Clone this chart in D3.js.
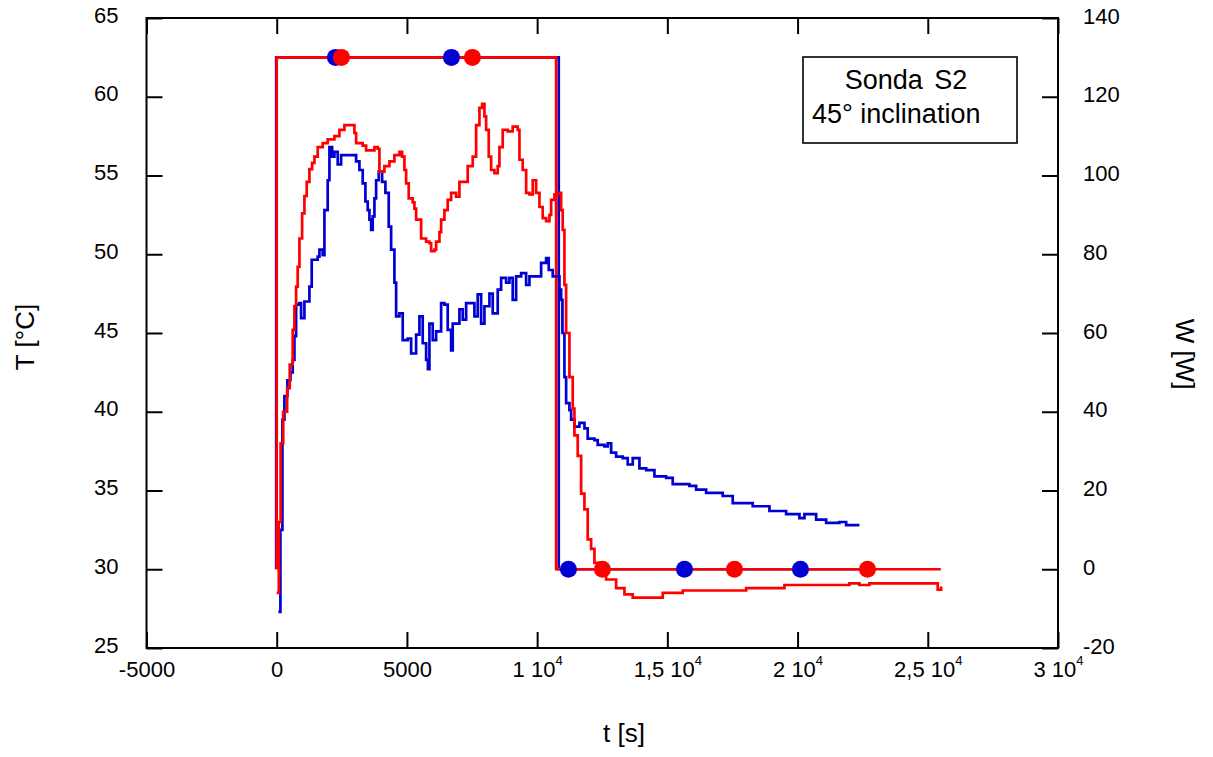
<!DOCTYPE html>
<html><head><meta charset="utf-8">
<script src="https://cdn.jsdelivr.net/npm/d3@7"></script>
<style>
body{margin:0;background:#fff}
text{font-family:"Liberation Sans",Arial,Helvetica,sans-serif;fill:#000}
</style>
</head><body>
<svg id="chart" width="1213" height="757"></svg>
<script>
// ---------- data ----------
const xTicks = [-5000, 0, 5000, 10000, 15000, 20000, 25000, 30000];
const xTickMantissa = ["-5000", "0", "5000", "1 10", "1,5 10", "2 10", "2,5 10", "3 10"];
const xTickExponent = ["", "", "", "4", "4", "4", "4", "4"];
const tempTicks = [25, 30, 35, 40, 45, 50, 55, 60, 65];
const powerTicks = [-20, 0, 20, 40, 60, 80, 100, 120, 140];

// red temperature (time s, T °C)
const redTempTime = [0, 80, 150, 250, 400, 500, 614, 680, 745, 806, 872, 975, 1064, 1152, 1256, 1359, 1448, 1574, 1766, 1958, 2216, 2408, 2600, 2857, 2984, 3049, 3302, 3433, 3752, 3878, 3944, 4136, 4328, 4520, 4712, 4815, 4904, 4969, 5069, 5222, 5288, 5353, 5545, 5737, 5864, 5929, 6056, 6121, 6248, 6313, 6440, 6566, 6697, 6889, 7016, 7208, 7334, 7526, 7657, 7784, 7887, 7976, 8041, 8141, 8233, 8360, 8486, 8552, 8678, 8870, 9062, 9254, 9320, 9446, 9577, 9704, 9830, 9961, 10088, 10214, 10345, 10472, 10537, 10664, 10790, 10921, 10982, 11048, 11113, 11240, 11366, 11432, 11558, 11689, 11816, 11942, 12073, 12200, 12392, 12649, 13033, 13352, 13670, 14377, 14822, 15590, 18025, 19496, 21992, 22376, 22760, 24998, 25382, 25513];
const redTempValue = [28.5, 33, 38, 40, 41.5, 43, 45.2, 46.7, 47.95, 49.2, 51.0, 52.6, 53.7, 54.6, 55.4, 55.8, 56.2, 56.8, 57.05, 57.3, 57.5, 57.9, 58.2, 58.2, 57.7, 57.05, 56.9, 56.6, 56.8, 56.7, 55.25, 55.6, 55.9, 56.3, 56.5, 56.2, 55.35, 54.5, 53.55, 53.3, 52.9, 52.2, 51.0, 50.8, 50.7, 50.2, 50.3, 50.8, 51.4, 52.2, 52.8, 53.45, 53.9, 53.65, 54.6, 54.6, 55.6, 56.2, 58.2, 59.3, 59.55, 58.75, 57.9, 56.2, 55.35, 55.15, 55.6, 56.8, 57.9, 57.8, 58.1, 57.9, 56.0, 55.35, 53.9, 53.8, 54.7, 53.9, 53.0, 52.3, 52.1, 52.5, 53.45, 53.8, 53.9, 52.8, 51.55, 48.05, 45.0, 42.2, 40.2, 38.5, 37.2, 34.8, 33.8, 31.9, 31.3, 30.4, 29.8, 29.35, 28.8, 28.4, 28.2, 28.2, 28.5, 28.65, 28.8, 29.0, 29.1, 29.0, 29.1, 29.1, 28.7, 28.9];

// blue temperature (time s, T °C)
const blueTempTime = [65, 142, 219, 296, 411, 526, 614, 680, 745, 872, 937, 1064, 1256, 1344, 1574, 1640, 1766, 1832, 1958, 2024, 2127, 2216, 2342, 2473, 2918, 3049, 3176, 3302, 3406, 3494, 3560, 3625, 3686, 3752, 3817, 3917, 4047, 4174, 4301, 4393, 4520, 4585, 4712, 4838, 5030, 5161, 5353, 5480, 5606, 5737, 5806, 5864, 5990, 6121, 6313, 6440, 6566, 6697, 6758, 7016, 7142, 7273, 7465, 7592, 7718, 7849, 7976, 8168, 8294, 8486, 8617, 8809, 8936, 9062, 9193, 9385, 9577, 9704, 9961, 10153, 10345, 10445, 10598, 10729, 10856, 10921, 10971, 11048, 11113, 11240, 11305, 11432, 11624, 11816, 11942, 12200, 12326, 12584, 12710, 12841, 13033, 13286, 13478, 13670, 13928, 14185, 14504, 14953, 15206, 15847, 16105, 16489, 17126, 17510, 18278, 18920, 19561, 20072, 20264, 20713, 21097, 21608, 21865, 22376];
const blueTempValue = [27.3, 32.5, 39.5, 41.0, 42.0, 42.5, 43.3, 44.8, 46.8, 46.9, 45.95, 47.0, 47.95, 49.65, 49.85, 50.3, 49.95, 52.8, 54.7, 56.8, 56.2, 56.5, 55.7, 56.3, 56.3, 55.9, 55.35, 54.5, 53.35, 52.8, 52.2, 51.55, 52.4, 53.55, 54.7, 55.25, 54.6, 53.9, 51.75, 50.3, 48.2, 46.05, 46.25, 44.55, 44.65, 43.7, 44.9, 46.05, 44.35, 43.3, 42.7, 45.6, 44.55, 45.1, 46.9, 46.8, 45.2, 43.9, 45.6, 46.5, 45.85, 46.9, 46.9, 46.05, 47.45, 45.6, 46.7, 47.5, 46.25, 47.75, 48.5, 48.2, 48.5, 47.1, 48.6, 48.8, 48.05, 48.6, 48.6, 49.45, 49.75, 49.0, 48.6, 48.6, 47.75, 47.1, 45.0, 42.2, 40.55, 40.1, 39.5, 39.05, 39.3, 38.95, 38.3, 38.2, 37.9, 37.8, 38.0, 37.4, 37.15, 37.05, 36.65, 37.05, 36.4, 36.3, 35.9, 35.8, 35.4, 35.3, 35.05, 34.85, 34.65, 34.2, 34.0, 33.7, 33.5, 33.25, 33.5, 33.15, 32.95, 33.0, 32.8, 32.8];

// power (W) step profiles
const redPowerTime = [0, 0, 10730, 10730, 25500];
const redPowerValue = [0, 130, 130, 0, 0];
const bluePowerTime = [-20, -20, 10830, 10830, 22500];
const bluePowerValue = [0, 130, 130, 0, 0];

// sampling markers on the power curves
const blueMarkerTime = [2254, 6709, 11202, 15657, 20111];
const blueMarkerPower = [130, 130, 0, 0, 0];
const redMarkerTime = [2485, 7515, 12508, 17577, 22684];
const redMarkerPower = [130, 130, 0, 0, 0];

const legendLines = ["Sonda S2", "45° inclination"];

// ---------- chart ----------
const BLUE = "#0000d2", RED = "#ff0000";
const svg = d3.select("#chart");
const L = 146.5, R = 1058, T = 18, B = 648;

const x = d3.scaleLinear().domain([-5000, 30000]).range([L, R]);
const yT = d3.scaleLinear().domain([25, 65]).range([B, T]);
const yW = d3.scaleLinear().domain([-20, 140]).range([B, T]);

const zip = (a, b) => a.map((v, i) => [v, b[i]]);
const LW = 2.7;

// power lines
const powerLine = d3.line().x(d => x(d[0])).y(d => yW(d[1]));
svg.append("path").attr("d", powerLine(zip(bluePowerTime, bluePowerValue)))
  .attr("fill", "none").attr("stroke", BLUE).attr("stroke-width", LW);
svg.append("path").attr("d", powerLine(zip(redPowerTime, redPowerValue)))
  .attr("fill", "none").attr("stroke", RED).attr("stroke-width", LW);

// temperature lines
const tempLine = d3.line().x(d => x(d[0])).y(d => yT(d[1])).curve(d3.curveStepAfter);
svg.append("path").attr("d", tempLine(zip(blueTempTime, blueTempValue)))
  .attr("fill", "none").attr("stroke", BLUE).attr("stroke-width", LW);
svg.append("path").attr("d", tempLine(zip(redTempTime, redTempValue)))
  .attr("fill", "none").attr("stroke", RED).attr("stroke-width", LW);

// markers
svg.append("g").selectAll("circle").data(zip(blueMarkerTime, blueMarkerPower)).join("circle")
  .attr("cx", d => x(d[0])).attr("cy", d => yW(d[1])).attr("r", 8.5).attr("fill", BLUE);
svg.append("g").selectAll("circle").data(zip(redMarkerTime, redMarkerPower)).join("circle")
  .attr("cx", d => x(d[0])).attr("cy", d => yW(d[1])).attr("r", 8.5).attr("fill", RED);

// axes
const TICK = 16;
function style(g) {
  g.select(".domain").remove();
  g.selectAll(".tick line").attr("stroke", "#000").attr("stroke-width", 2);
  g.selectAll("text").style("font-size", "22px").attr("fill", "#000");
}
const plain = d => String(d);
// bottom
const gB = svg.append("g").attr("transform", `translate(0,${B})`)
  .call(d3.axisBottom(x).tickValues(xTicks).tickSizeInner(-TICK).tickSizeOuter(0).tickPadding(14)
    .tickFormat(() => ""))
  .call(style);
gB.selectAll(".tick text").each(function (d, i) {
  const t = d3.select(this).attr("dy", null).attr("y", 29);
  t.append("tspan").text(xTickMantissa[i]);
  if (xTickExponent[i]) t.append("tspan").attr("dy", -12).style("font-size", "13px").text(xTickExponent[i]);
});
// top
svg.append("g").attr("transform", `translate(0,${T})`)
  .call(d3.axisTop(x).tickValues(xTicks).tickSizeInner(-TICK).tickSizeOuter(0).tickFormat(() => ""))
  .call(style);
// left
svg.append("g").attr("transform", `translate(${L},0)`)
  .call(d3.axisLeft(yT).tickValues(tempTicks).tickSizeInner(-TICK).tickSizeOuter(0).tickPadding(28)
    .tickFormat(plain))
  .call(style)
  .selectAll(".tick text").attr("dy", null).attr("y", 4);
// right
svg.append("g").attr("transform", `translate(${R},0)`)
  .call(d3.axisRight(yW).tickValues(powerTicks).tickSizeInner(-TICK).tickSizeOuter(0).tickPadding(25)
    .tickFormat(plain))
  .call(style)
  .selectAll(".tick text").attr("dy", null).attr("y", 5);

// frame
svg.append("rect").attr("x", L).attr("y", T).attr("width", R - L).attr("height", B - T)
  .attr("fill", "none").attr("stroke", "#000").attr("stroke-width", 2);

// axis titles
svg.append("text").attr("transform", "translate(34,337) rotate(-90)").attr("text-anchor", "middle")
  .style("font-size", "26px").text("T [°C]");
svg.append("text").attr("x", 624).attr("y", 742).attr("text-anchor", "middle")
  .style("font-size", "26px").text("t [s]");
svg.append("text").attr("transform", "translate(1176,354) rotate(90)").attr("text-anchor", "middle")
  .style("font-size", "26px").text("W [W]");

// legend box
svg.append("rect").attr("x", 803).attr("y", 57).attr("width", 214).attr("height", 86)
  .attr("fill", "#fff").attr("stroke", "#000").attr("stroke-width", 1.6);
svg.append("text").attr("x", 906).attr("y", 89).attr("text-anchor", "middle")
  .style("font-size", "27px").style("word-spacing", "4px").text(legendLines[0]);
svg.append("text").attr("x", 812).attr("y", 123)
  .style("font-size", "27px").text(legendLines[1]);
</script>
</body></html>
